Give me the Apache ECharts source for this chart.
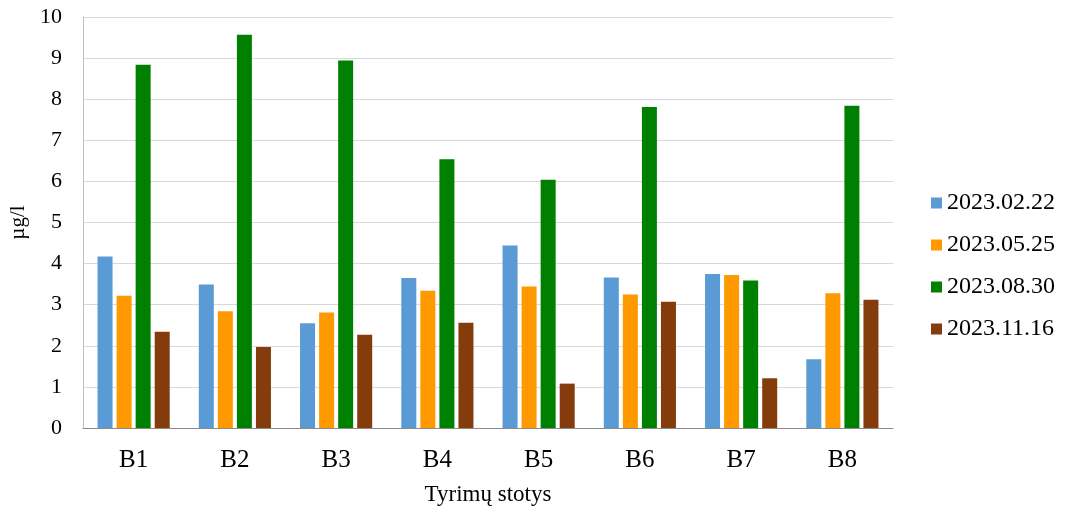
<!DOCTYPE html>
<html>
<head>
<meta charset="utf-8">
<script src="https://cdn.jsdelivr.net/npm/echarts@6/dist/echarts.min.js"></script>
<style>
  html, body { margin: 0; padding: 0; background: #ffffff; }
  #chart { width: 1068px; height: 508px; }
</style>
</head>
<body>
<div id="chart"></div>
<script>
// Monitoring stations
const stations = ['B1', 'B2', 'B3', 'B4', 'B5', 'B6', 'B7', 'B8'];
// Sampling dates
const dates = ['2023.02.22', '2023.05.25', '2023.08.30', '2023.11.16'];
// Concentrations, µg/l, per sampling date
const feb22 = [4.17, 3.49, 2.55, 3.65, 4.44, 3.66, 3.75, 1.67];
const may25 = [3.22, 2.84, 2.81, 3.34, 3.44, 3.25, 3.72, 3.28];
const aug30 = [8.84, 9.57, 8.94, 6.54, 6.04, 7.81, 3.59, 7.84];
const nov16 = [2.34, 1.97, 2.27, 2.56, 1.08, 3.07, 1.21, 3.12];

const colors = ['#5b9bd5', '#ff9900', '#008000', '#843c0c'];
const seriesValues = [feb22, may25, aug30, nov16];
const font = '"Liberation Serif", "DejaVu Serif", serif';

const chart = echarts.init(document.getElementById('chart'));
chart.setOption({
  animation: false,
  textStyle: { fontFamily: font },
  grid: { left: 83, right: 175, top: 17, bottom: 80, containLabel: false, outerBoundsMode: 'none' },
  legend: {
    orient: 'vertical',
    left: 926,
    top: 186,
    itemWidth: 11,
    itemHeight: 11,
    itemGap: 18,
    icon: 'rect',
    textStyle: { fontFamily: font, fontSize: 24, color: '#000' },
    data: dates
  },
  xAxis: {
    type: 'category',
    data: stations,
    name: 'Tyrimų stotys',
    nameLocation: 'middle',
    nameGap: 55,
    nameTextStyle: { fontFamily: font, fontSize: 23, color: '#000' },
    axisLine: { lineStyle: { color: '#8c8c8c' } },
    axisTick: { show: false },
    axisLabel: { fontFamily: font, fontSize: 25, color: '#000', margin: 20 }
  },
  yAxis: {
    type: 'value',
    min: 0,
    max: 10,
    interval: 1,
    name: 'µg/l',
    nameLocation: 'middle',
    nameGap: 52,
    nameRotate: 90,
    nameTextStyle: { fontFamily: font, fontSize: 21, color: '#000' },
    axisLine: { show: true, lineStyle: { color: '#bfbfbf' } },
    axisTick: { show: false },
    axisLabel: { fontFamily: font, fontSize: 22, color: '#000', margin: 21 },
    splitLine: { lineStyle: { color: '#d9d9d9' } }
  },
  series: dates.map((d, i) => ({
    name: d,
    type: 'bar',
    data: seriesValues[i],
    barWidth: 15,
    barGap: '27%',
    barCategoryGap: '32%',
    itemStyle: { color: colors[i] }
  }))
});
</script>
</body>
</html>
